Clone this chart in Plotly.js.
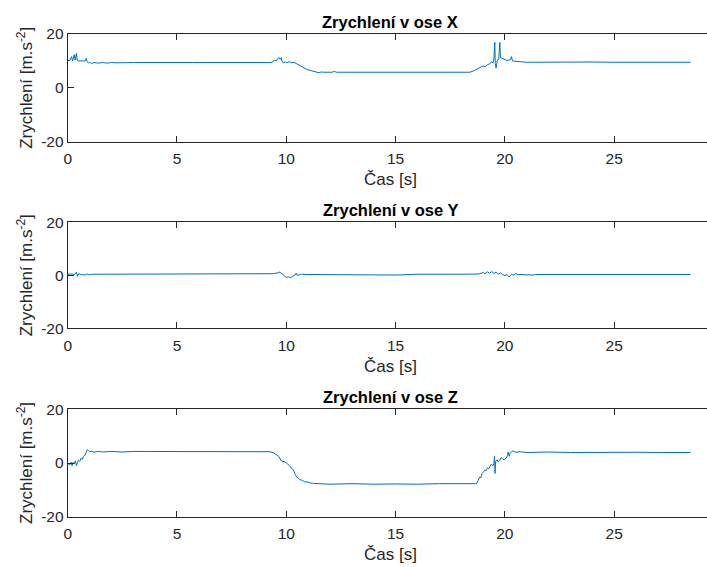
<!DOCTYPE html>
<html>
<head>
<meta charset="utf-8">
<script src="https://cdn.plot.ly/plotly-3.0.1.min.js"></script>
<style>
html,body{margin:0;padding:0;overflow:hidden;background:#fff;}
#chart{width:720px;height:567px;}
</style>
</head>
<body>
<div id="chart"></div>
<script>
// ---- data ----
const titles = ["Zrychlení v ose X", "Zrychlení v ose Y", "Zrychlení v ose Z"];
const xLabel = "Čas [s]";
const yLabel = "Zrychlení [m.s<sup>-2</sup>]";
const xTicks = [0, 5, 10, 15, 20, 25];
const yTicks = [-20, 0, 20];

const tX = [0.00,0.10,0.18,0.22,0.30,0.34,0.40,0.44,0.50,0.60,0.72,0.80,0.85,0.88,0.95,1.00,1.10,1.20,1.40,1.60,1.80,2.00,2.20,3.00,3.30,3.40,5.00,5.60,5.70,9.20,9.35,9.45,9.55,9.62,9.68,9.72,9.76,9.80,9.86,9.95,10.05,10.15,10.25,10.35,10.45,10.55,10.65,10.75,10.85,10.95,11.08,11.20,11.35,11.50,11.60,11.70,12.10,12.20,12.30,15.00,15.50,16.00,17.00,18.00,18.40,18.60,18.80,19.00,19.10,19.20,19.30,19.40,19.45,19.50,19.54,19.56,19.60,19.65,19.72,19.77,19.80,19.90,20.00,20.10,20.25,20.30,20.35,20.45,20.55,20.70,21.00,22.00,23.00,24.00,25.00,26.00,27.00,28.50];
const aX = [10.1,10.2,11.6,10.0,12.3,10.3,12.8,10.2,10.0,10.1,10.0,10.0,11.0,9.8,9.3,9.5,9.1,9.4,9.2,9.4,9.2,9.4,9.3,9.4,9.5,9.4,9.4,9.5,9.4,9.4,9.5,10.2,10.0,11.0,11.2,10.6,11.2,10.0,9.3,9.6,9.4,9.7,9.3,9.5,9.0,8.6,8.0,7.5,7.3,6.8,6.5,6.2,5.9,5.6,5.9,5.8,5.8,6.1,5.8,5.8,5.7,5.8,5.7,5.8,5.8,6.4,7.2,8.1,7.8,8.6,8.9,9.7,9.2,10.5,16.9,9.0,7.3,10.0,10.8,16.9,11.2,10.8,10.6,10.2,10.4,11.6,10.0,9.9,9.6,9.7,9.5,9.6,9.5,9.6,9.5,9.6,9.5,9.5];

const tY = [0.00,0.20,0.30,0.40,0.45,0.50,0.60,0.80,0.90,1.00,1.10,2.00,9.20,9.40,9.60,9.70,9.80,9.90,10.00,10.10,10.20,10.30,10.40,10.45,10.50,10.60,10.70,11.00,12.00,12.50,13.50,14.00,14.50,15.00,16.00,17.00,18.00,18.80,19.00,19.10,19.20,19.30,19.40,19.50,19.60,19.70,19.80,20.00,20.10,20.20,20.30,20.40,20.50,20.60,20.80,21.00,21.30,21.40,22.00,28.50];
const aY = [0.4,0.5,0.2,1.2,-0.4,0.6,0.3,0.1,0.5,0.2,0.4,0.4,0.4,0.6,0.9,1.2,0.6,-0.2,-0.8,-0.6,-0.9,-0.3,0.1,0.8,-0.1,0.2,0.4,0.3,0.2,0.3,0.2,0.0,0.2,0.1,0.4,0.3,0.4,0.5,1.0,0.6,1.3,0.8,1.4,0.7,1.2,0.5,0.9,-0.2,0.3,-0.6,0.4,0.1,0.6,0.3,0.2,0.3,0.1,0.3,0.3,0.3];

const tZ = [0.00,0.10,0.15,0.20,0.25,0.30,0.35,0.40,0.45,0.50,0.55,0.62,0.68,0.72,0.80,0.85,0.90,0.94,1.00,1.10,1.20,1.40,1.60,2.00,2.50,3.00,5.00,9.25,9.40,9.55,9.65,9.78,9.90,10.01,10.15,10.24,10.32,10.39,10.47,10.55,10.62,10.75,10.85,10.95,11.08,11.25,11.50,12.00,13.00,14.00,15.00,16.00,17.00,18.00,18.70,18.78,18.85,18.90,18.95,19.02,19.08,19.14,19.20,19.26,19.31,19.36,19.40,19.45,19.50,19.53,19.55,19.58,19.65,19.70,19.77,19.83,19.90,19.96,20.07,20.12,20.15,20.20,20.25,20.37,20.50,20.70,21.00,22.00,23.00,24.00,25.00,26.00,27.00,28.50];
const aZ = [-0.2,-0.6,0.3,-1.0,0.2,-0.4,0.8,-1.0,0.5,1.0,0.6,1.9,1.4,2.5,3.0,4.0,5.0,4.6,4.2,4.4,4.0,4.3,4.1,4.3,4.1,4.3,4.2,4.2,3.9,2.9,2.5,0.7,0.5,0.0,-1.0,-2.1,-2.4,-3.9,-5.2,-5.6,-6.2,-6.5,-7.1,-7.0,-7.4,-7.6,-7.7,-7.9,-7.7,-7.9,-7.8,-7.9,-7.7,-7.8,-7.7,-6.5,-5.2,-5.6,-4.0,-3.4,-2.7,-2.9,-1.8,-2.2,-1.2,-0.6,-0.5,-1.1,-0.2,2.5,-3.9,0.5,1.2,0.4,1.0,2.0,1.6,1.1,1.9,2.8,4.1,2.5,3.8,4.5,4.0,4.2,3.9,4.1,3.9,4.0,3.9,4.0,3.9,3.9];

// ---- layout geometry (pixels) ----
const W = 720, H = 567;
const left = 67.7, right = 712.5;
const axTop = [34, 222.3, 409.3];
const axBot = [141.7, 328.3, 516.7];
const px = x => x / W;
const py = y => 1 - y / H;

const lineColor = '#0072BD';
const axisColor = '#262626';
const fontFam = 'Liberation Sans, Arial, sans-serif';

const series = [[tX, aX], [tY, aY], [tZ, aZ]];
const traces = series.map((s, i) => ({
  x: s[0], y: s[1], type: 'scatter', mode: 'lines',
  line: {color: lineColor, width: 1},
  xaxis: i === 0 ? 'x' : 'x' + (i + 1),
  yaxis: i === 0 ? 'y' : 'y' + (i + 1),
  hoverinfo: 'skip', showlegend: false
}));

const layout = {
  width: W, height: H,
  margin: {l: 0, r: 0, t: 0, b: 0},
  paper_bgcolor: '#ffffff', plot_bgcolor: '#ffffff',
  font: {family: fontFam, color: axisColor, size: 15},
  showlegend: false,
  annotations: []
};

for (let i = 0; i < 3; i++) {
  const xa = i === 0 ? 'xaxis' : 'xaxis' + (i + 1);
  const ya = i === 0 ? 'yaxis' : 'yaxis' + (i + 1);
  const yid = i === 0 ? 'y' : 'y' + (i + 1);
  const xid = i === 0 ? 'x' : 'x' + (i + 1);
  layout[xa] = {
    domain: [px(left), px(right)], anchor: yid,
    range: [0, 29.5], tickvals: xTicks, ticktext: xTicks.map(String),
    showline: true, mirror: 'ticks', linecolor: axisColor, linewidth: 1,
    ticks: 'inside', ticklen: 6, tickcolor: axisColor, tickwidth: 1,
    ticklabelstandoff: 3,
    showgrid: false, zeroline: false,
    tickfont: {family: fontFam, size: 15.5, color: axisColor}
  };
  layout[ya] = {
    domain: [py(axBot[i]), py(axTop[i])], anchor: xid,
    range: [-20, 20], tickvals: yTicks, ticktext: yTicks.map(String),
    showline: true, mirror: 'ticks', linecolor: axisColor, linewidth: 1,
    ticks: 'inside', ticklen: 6, tickcolor: axisColor, tickwidth: 1,
    showgrid: false, zeroline: false,
    tickfont: {family: fontFam, size: 15.5, color: axisColor}
  };
  layout.annotations.push({
    text: '<b>' + titles[i] + '</b>', xref: 'paper', yref: 'paper',
    x: px((left + right) / 2), y: py(axTop[i] - 12.5),
    xanchor: 'center', yanchor: 'middle', showarrow: false,
    font: {family: fontFam, size: 16.5, color: '#000000'}
  });
  layout.annotations.push({
    text: xLabel, xref: 'paper', yref: 'paper',
    x: px((left + right) / 2), y: py(axBot[i] + 38),
    xanchor: 'center', yanchor: 'middle', showarrow: false,
    font: {family: fontFam, size: 17, color: axisColor}
  });
  layout.annotations.push({
    text: yLabel, xref: 'paper', yref: 'paper',
    x: px(25), y: py((axTop[i] + axBot[i]) / 2),
    xanchor: 'center', yanchor: 'middle', showarrow: false, textangle: -90,
    font: {family: fontFam, size: 17, color: axisColor}
  });
}

Plotly.newPlot('chart', traces, layout, {staticPlot: true, displayModeBar: false});
</script>
</body>
</html>
